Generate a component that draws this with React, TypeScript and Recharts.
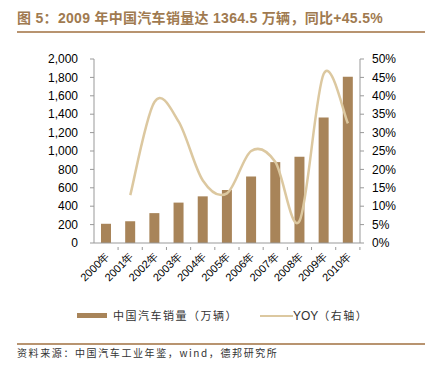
import React from 'react';
import { ComposedChart, Bar, Line, XAxis, YAxis } from 'recharts';

const years = ['2000年', '2001年', '2002年', '2003年', '2004年', '2005年', '2006年', '2007年', '2008年', '2009年', '2010年'];
const sales = [208.9, 236.4, 324.8, 439.1, 507.1, 575.8, 721.6, 879.2, 938.1, 1364.5, 1806.2];
const yoy = [null, 0.13, 0.383, 0.33, 0.17, 0.135, 0.25, 0.22, 0.06, 0.46, 0.325];
const leftTicks = [0, 200, 400, 600, 800, 1000, 1200, 1400, 1600, 1800, 2000];
const rightTicks = [0, 0.05, 0.1, 0.15, 0.2, 0.25, 0.3, 0.35, 0.4, 0.45, 0.5];

const BAR = '#A88459';
const LINE = '#DCC8A0';
const BROWN = '#A07A50';

const data = years.map((y, i) => ({ year: y, sales: sales[i], yoy: yoy[i] }));

// Excel-style smoothed line (Catmull-Rom through the points)
function smoothCurve(context: any) {
  let pts: number[][] = [];
  return {
    areaStart() {},
    areaEnd() {},
    lineStart() { pts = []; },
    lineEnd() {
      const n = pts.length;
      if (!n) return;
      context.moveTo(pts[0][0], pts[0][1]);
      for (let i = 0; i < n - 1; i++) {
        const p0 = pts[i - 1] || pts[i];
        const p1 = pts[i];
        const p2 = pts[i + 1];
        const p3 = pts[i + 2] || p2;
        context.bezierCurveTo(
          p1[0] + (p2[0] - p0[0]) / 6, p1[1] + (p2[1] - p0[1]) / 6,
          p2[0] - (p3[0] - p1[0]) / 6, p2[1] - (p3[1] - p1[1]) / 6,
          p2[0], p2[1]
        );
      }
    },
    point(x: number, y: number) { pts.push([+x, +y]); },
  };
}

const XTick = ({ x, y, payload }: any) => (
  <g>
    <line x1={x + 12} y1={y - 1} x2={x + 12} y2={y - 4} stroke="#999" />
    <text x={x + 4} y={y + 6} transform={`rotate(-45, ${x + 4}, ${y + 6})`} textAnchor="end" fontSize={11} fill="#000" fontFamily="'Liberation Sans', Arial, sans-serif">
      {payload.value}
    </text>
  </g>
);

export default function App() {
  const font = "'Liberation Sans', Arial, 'Noto Sans CJK SC', sans-serif";
  const cjk = "'Noto Sans CJK SC', sans-serif";
  return (
    <div style={{ position: 'absolute', left: 0, top: 0, width: 425, height: 377, background: '#fff', fontFamily: font }}>
      <div style={{ position: 'absolute', left: 17, top: 7, fontSize: 14, letterSpacing: 0.3, fontWeight: 'bold', color: BROWN, fontFamily: "'Liberation Sans', 'Noto Sans CJK SC', sans-serif", whiteSpace: 'nowrap' }}>
        图 5：2009 年中国汽车销量达 1364.5 万辆，同比+45.5%
      </div>
      <div style={{ position: 'absolute', left: 17, top: 31, width: 408, height: 2, background: '#B89470' }} />
      <ComposedChart
        width={425}
        height={377}
        data={data}
        margin={{ top: 59, right: 15, bottom: 74, left: 44 }}
        style={{ position: 'absolute', left: 0, top: 0 }}
      >
        <XAxis dataKey="year" tick={<XTick />} tickLine={false} axisLine={{ stroke: '#999' }} interval={0} height={60} />
        <YAxis
          yAxisId="left"
          width={50}
          domain={[0, 2000]}
          ticks={leftTicks}
          tickFormatter={(v: number) => v.toLocaleString('en-US')}
          tick={{ fontSize: 12, fill: '#000', fontFamily: font }}
          tickSize={4}
          tickMargin={12}
          axisLine={{ stroke: '#999' }}
          tickLine={{ stroke: '#999' }}
          interval={0}
        />
        <YAxis
          yAxisId="right"
          orientation="right"
          width={50}
          domain={[0, 0.5]}
          ticks={rightTicks}
          tickFormatter={(v: number) => `${Math.round(v * 100)}%`}
          tick={{ fontSize: 12, fill: '#000', fontFamily: font, textAnchor: 'start' }}
          tickSize={4}
          tickMargin={8}
          axisLine={{ stroke: '#999' }}
          tickLine={{ stroke: '#999' }}
          interval={0}
        />
        <Bar yAxisId="left" dataKey="sales" fill={BAR} barSize={10} isAnimationActive={false} />
        <Line yAxisId="right" dataKey="yoy" type={smoothCurve as any} stroke={LINE} strokeWidth={2.5} dot={false} isAnimationActive={false} />
      </ComposedChart>
      <div style={{ position: 'absolute', left: 77, top: 313, width: 30, height: 5, background: BAR }} />
      <div style={{ position: 'absolute', left: 113, top: 307, fontSize: 11, letterSpacing: 1.5, color: '#333', fontFamily: cjk, whiteSpace: 'nowrap' }}>
        中国汽车销量（万辆）
      </div>
      <div style={{ position: 'absolute', left: 260, top: 315, width: 33, height: 2, background: LINE }} />
      <div style={{ position: 'absolute', left: 293, top: 307, fontSize: 12, color: '#333', fontFamily: font, whiteSpace: 'nowrap' }}>
        YOY<span style={{ fontFamily: cjk, fontSize: 11, letterSpacing: 1.5 }}>（右轴）</span>
      </div>
      <div style={{ position: 'absolute', left: 17, top: 343, width: 408, height: 2, background: '#B89470' }} />
      <div style={{ position: 'absolute', left: 17, top: 345, fontSize: 10, letterSpacing: 1.6, color: '#333', fontFamily: cjk, whiteSpace: 'nowrap' }}>
        资料来源：中国汽车工业年鉴，wind，德邦研究所
      </div>
    </div>
  );
}
